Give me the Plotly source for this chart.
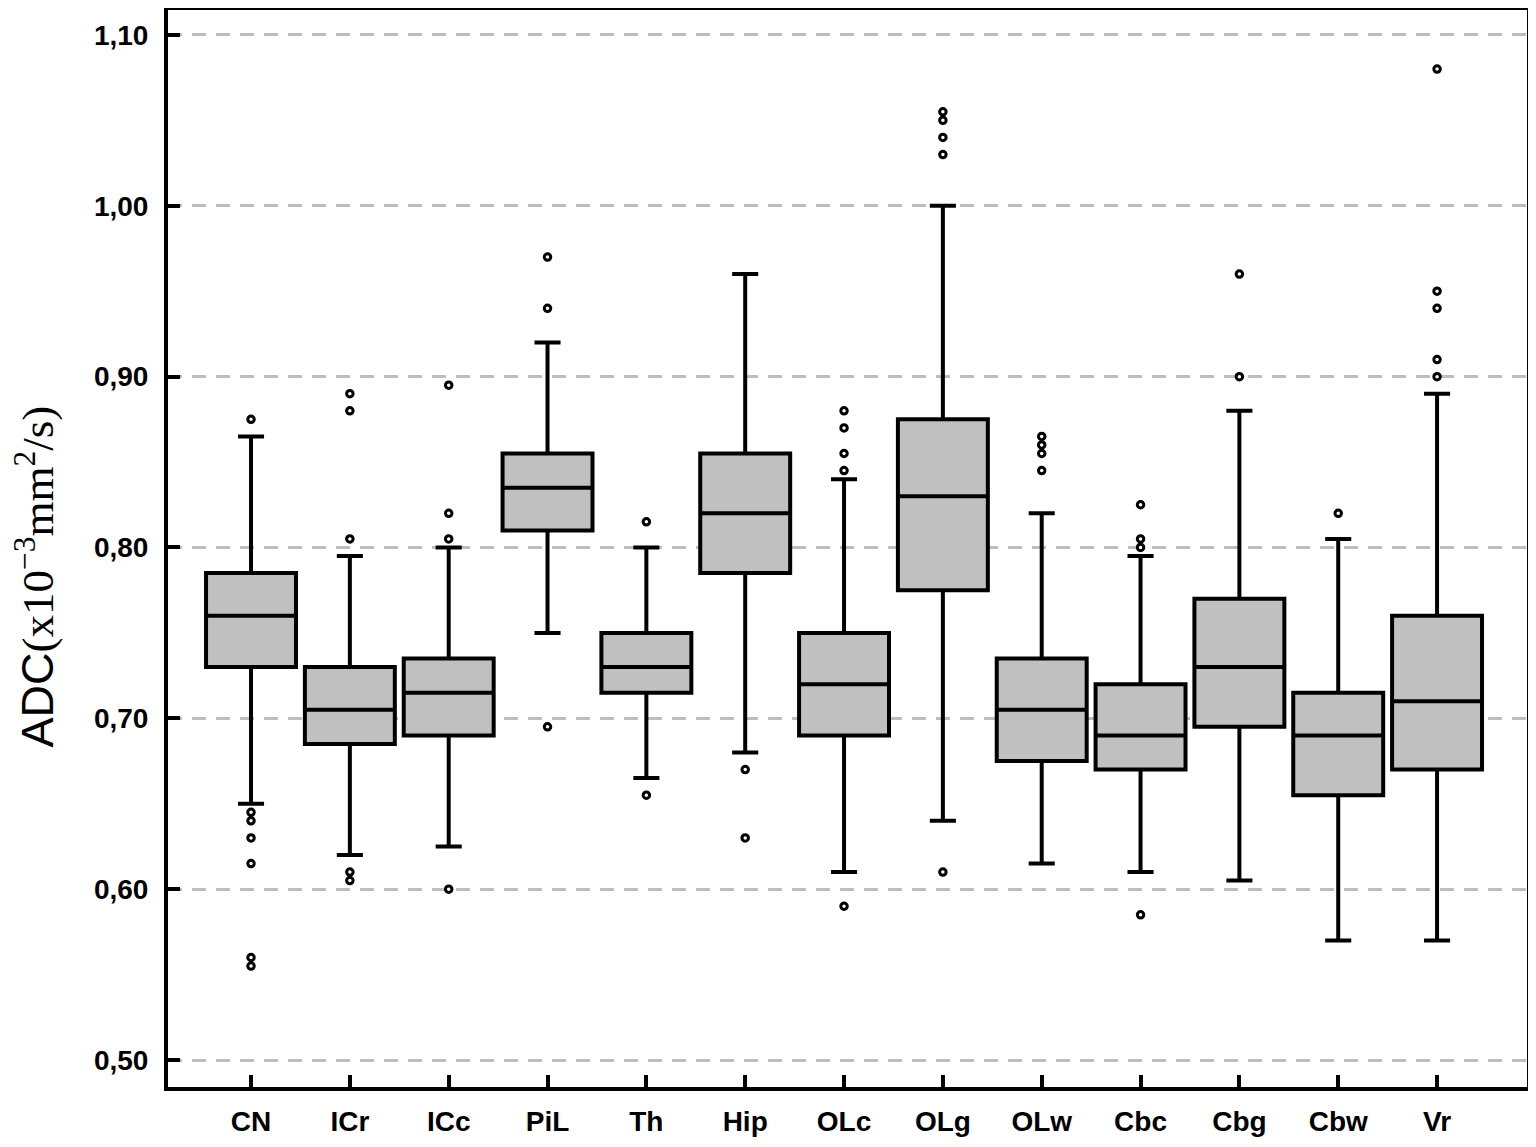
import plotly.graph_objects as go

# ADC per brain region (x10^-3 mm^2/s)
regions = ["CN", "ICr", "ICc", "PiL", "Th", "Hip", "OLc", "OLg", "OLw", "Cbc", "Cbg", "Cbw", "Vr"]
lower_fence = [0.650, 0.620, 0.625, 0.750, 0.665, 0.680, 0.610, 0.640, 0.615, 0.610, 0.605, 0.570, 0.570]
q1 = [0.730, 0.685, 0.690, 0.810, 0.715, 0.785, 0.690, 0.775, 0.675, 0.670, 0.695, 0.655, 0.670]
median = [0.760, 0.705, 0.715, 0.835, 0.730, 0.820, 0.720, 0.830, 0.705, 0.690, 0.730, 0.690, 0.710]
q3 = [0.785, 0.730, 0.735, 0.855, 0.750, 0.855, 0.750, 0.875, 0.735, 0.720, 0.770, 0.715, 0.760]
upper_fence = [0.865, 0.795, 0.800, 0.920, 0.800, 0.960, 0.840, 1.000, 0.820, 0.795, 0.880, 0.805, 0.890]

outliers = {
    "CN": [0.875, 0.645, 0.640, 0.630, 0.615, 0.560, 0.555],
    "ICr": [0.890, 0.880, 0.805, 0.610, 0.605],
    "ICc": [0.895, 0.820, 0.805, 0.600],
    "PiL": [0.970, 0.940, 0.695],
    "Th": [0.815, 0.655],
    "Hip": [0.670, 0.630],
    "OLc": [0.880, 0.870, 0.855, 0.845, 0.590],
    "OLg": [1.055, 1.050, 1.040, 1.030, 0.610],
    "OLw": [0.865, 0.860, 0.855, 0.845],
    "Cbc": [0.825, 0.805, 0.800, 0.585],
    "Cbg": [0.960, 0.900],
    "Cbw": [0.820],
    "Vr": [1.080, 0.950, 0.940, 0.910, 0.900],
}

y_ticks = [0.5, 0.6, 0.7, 0.8, 0.9, 1.0, 1.1]

out_x = [r for r in regions for _ in outliers[r]]
out_y = [v for r in regions for v in outliers[r]]

fig = go.Figure()
fig.add_trace(go.Box(
    x=regions,
    q1=q1, median=median, q3=q3,
    lowerfence=lower_fence, upperfence=upper_fence,
    boxpoints=False,
    fillcolor="#c0c0c0",
    line=dict(color="black", width=4),
    width=0.91,
    whiskerwidth=0.29,
    showlegend=False,
))
fig.add_trace(go.Scatter(
    x=out_x, y=out_y, mode="markers",
    marker=dict(symbol="circle", size=6.5, color="white",
                line=dict(color="black", width=3)),
    showlegend=False,
))

tick_font = dict(family="Liberation Sans, Arial, sans-serif", size=28, color="black", weight="bold")

# the page body keeps an 8px margin, so the figure is sized to fit inside it
fig.update_layout(
    width=1520, height=1131,
    margin=dict(l=160, r=1, t=2, b=52),
    paper_bgcolor="white", plot_bgcolor="white",
    separators=",.",
    font=dict(family="Liberation Sans, Arial, sans-serif", color="black"),
)
fig.update_xaxes(
    type="category", range=[-0.84, 12.91], automargin=False,
    showline=True, linecolor="black", linewidth=4, mirror=True,
    ticks="inside", ticklen=12, tickwidth=4, tickcolor="black",
    tickfont=tick_font, ticklabelstandoff=6,
    showgrid=False, zeroline=False,
)
fig.update_yaxes(
    range=[0.4842, 1.1146], automargin=False,
    tickvals=y_ticks, tickformat=".2f",
    showline=True, linecolor="black", linewidth=4, mirror=True,
    ticks="inside", ticklen=12, tickwidth=4, tickcolor="black",
    tickfont=tick_font, ticklabelstandoff=10,
    showgrid=True, gridcolor="#bebebe", gridwidth=3, griddash="14px,10px",
    zeroline=False,
)

fig.add_annotation(
    text="ADC<span style='font-family:Liberation Serif'>(x10<sup>−3</sup>mm<sup>2</sup>/s)</span>",
    xref="paper", yref="paper", x=-0.0975, y=0.4745,
    xanchor="center", yanchor="middle", textangle=-90, showarrow=False,
    font=dict(family="Liberation Sans, Arial, sans-serif", size=45, color="black"),
)

fig.write_html("out.html")
